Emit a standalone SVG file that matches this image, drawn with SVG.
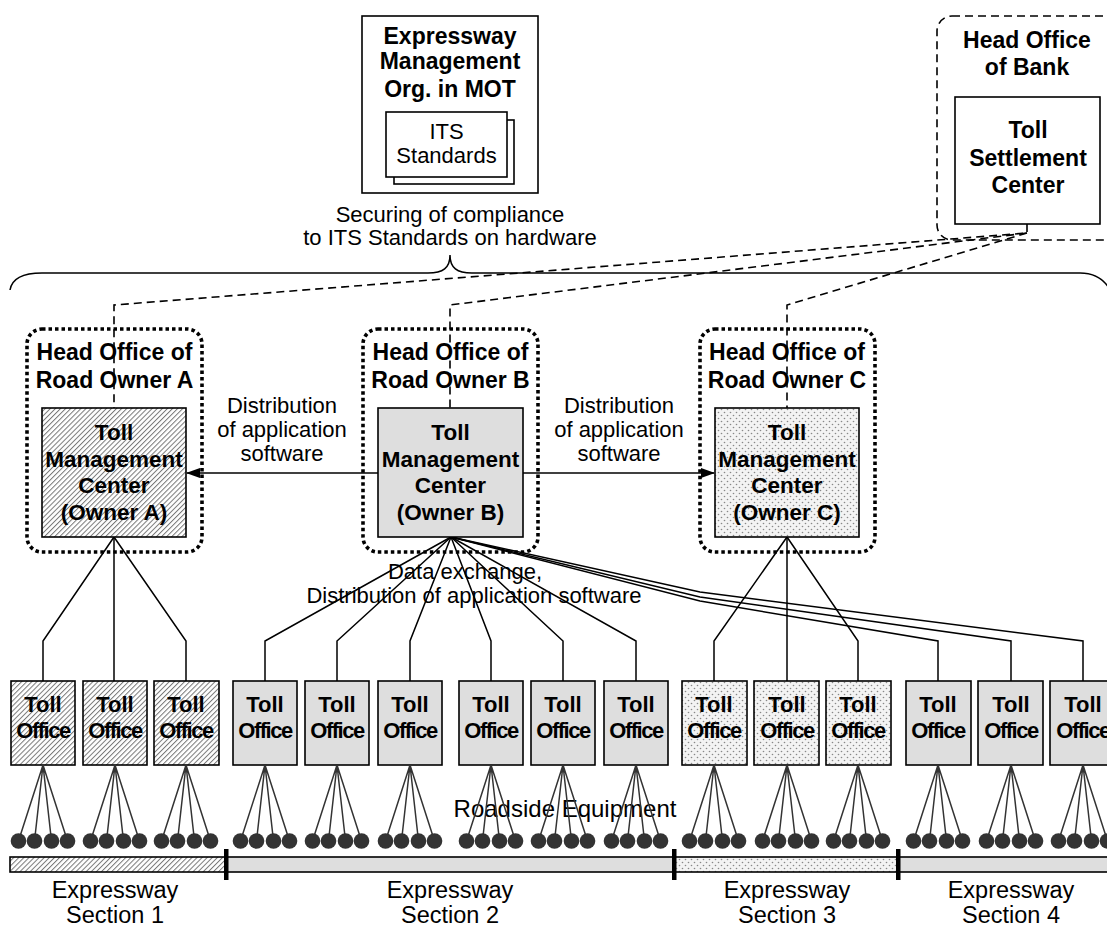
<svg xmlns="http://www.w3.org/2000/svg" width="1107" height="929" viewBox="0 0 1107 929">
  <defs>
    <style>
      text { font-family: "Liberation Sans", Arial, sans-serif; text-anchor: middle; fill: #000; }
      .bt { font-weight: bold; font-size: 23px; }
      .bm { font-weight: bold; font-size: 22.5px; }
      .bo { font-weight: bold; font-size: 22px; }
      .rt { font-size: 22px; }
      .rs { font-size: 24px; }
      .sec { font-size: 23.5px; }
      .box { stroke: #000; stroke-width: 1.6; }
      .dotted { fill: none; stroke: #000; stroke-width: 3.6; stroke-dasharray: 3.5 3; }
      .dashed { fill: none; stroke: #000; stroke-width: 1.6; stroke-dasharray: 8 5; }
      .ln { fill: none; stroke: #000; stroke-width: 1.5; }
      .fan { fill: none; stroke: #333; stroke-width: 1.5; }
      .eq { fill: #333; }
    </style>
    <pattern id="hatch" width="3.6" height="3.6" patternUnits="userSpaceOnUse" patternTransform="rotate(45)">
      <rect width="3.6" height="3.6" fill="#fff"/>
      <line x1="0.5" y1="0" x2="0.5" y2="3.6" stroke="#777" stroke-width="1"/>
    </pattern>
    <pattern id="dots" width="6" height="6" patternUnits="userSpaceOnUse">
      <rect width="6" height="6" fill="#f3f3f3"/>
      <circle cx="1.5" cy="1.5" r="0.8" fill="#888"/>
      <circle cx="4.5" cy="4.5" r="0.8" fill="#888"/>
    </pattern>
    <marker id="arrow" markerWidth="14" markerHeight="10" refX="13" refY="5" orient="auto" markerUnits="userSpaceOnUse">
      <path d="M0,0 L14,5 L0,10 Z" fill="#000"/>
    </marker>
  </defs>

  <!-- connectors -->
  <g id="connectors">
    <!-- settlement links (dashed) -->
    <polyline class="dashed" points="1027,224 1027,233 114,305 114,408"/>
    <polyline class="dashed" points="1027,233 450,305 450,408"/>
    <polyline class="dashed" points="1027,233 787,305 787,408"/>

    <!-- brace over the three owners -->
    <path class="ln" d="M10,290 C12,278 24,273 42,273 L428,273 C443,273 450,268 450,255 C450,268 457,273 472,273 L1080,273 C1094,273 1104,279 1110,290"/>

    <!-- software distribution arrows -->
    <line class="ln" x1="378" y1="473" x2="187" y2="473" marker-end="url(#arrow)"/>
    <line class="ln" x1="523" y1="473" x2="714" y2="473" marker-end="url(#arrow)"/>

    <!-- owner A to toll offices -->
    <polyline class="ln" points="114,537 43,641 43,681"/>
    <polyline class="ln" points="114,537 114,681"/>
    <polyline class="ln" points="114,537 186,641 186,681"/>

    <!-- owner B to toll offices -->
    <polyline class="ln" points="451,537 265,641 265,681"/>
    <polyline class="ln" points="451,537 337,641 337,681"/>
    <polyline class="ln" points="451,537 410,641 410,681"/>
    <polyline class="ln" points="451,537 491,641 491,681"/>
    <polyline class="ln" points="451,537 563,641 563,681"/>
    <polyline class="ln" points="451,537 636,641 636,681"/>
    <polyline class="ln" points="451,537 700,601 938,641 938,681"/>
    <polyline class="ln" points="451,537 700,597 1011,641 1011,681"/>
    <polyline class="ln" points="451,537 700,592 1083,641 1083,681"/>

    <!-- owner C to toll offices -->
    <polyline class="ln" points="787,537 714,641 714,681"/>
    <polyline class="ln" points="787,537 787,681"/>
    <polyline class="ln" points="787,537 858,641 858,681"/>
  </g>

  <!-- ministry node -->
  <g id="mot">
    <rect class="box" x="362" y="16" width="176" height="177" fill="#fff"/>
    <text class="bt" x="450" y="44">Expressway</text>
    <text class="bt" x="450" y="69">Management</text>
    <text class="bt" x="450" y="97">Org. in MOT</text>
    <g id="its-standards">
      <rect class="box" x="394" y="120" width="120" height="64" fill="#fff"/>
      <rect class="box" x="386" y="112" width="121" height="65" fill="#fff"/>
      <text class="rt" x="446.5" y="139">ITS</text>
      <text class="rt" x="446.5" y="163">Standards</text>
    </g>
  </g>
  <text class="rt" x="450" y="222">Securing of compliance</text>
  <text class="rt" x="450" y="245">to ITS Standards on hardware</text>

  <!-- bank node -->
  <g id="bank">
    <rect class="dashed" x="937" y="16" width="200" height="224" rx="15"/>
    <text class="bt" x="1027" y="48">Head Office</text>
    <text class="bt" x="1027" y="75">of Bank</text>
    <g id="settlement-center">
      <rect class="box" x="955" y="97" width="145" height="127" fill="#fff"/>
      <text class="bt" x="1028" y="138">Toll</text>
      <text class="bt" x="1028" y="166">Settlement</text>
      <text class="bt" x="1028" y="193">Center</text>
    </g>
  </g>

  <!-- road owner A -->
  <g id="owner-a">
    <rect class="dotted" x="27" y="329" width="175" height="223" rx="15"/>
    <text class="bt" x="114.5" y="360">Head Office of</text>
    <text class="bt" x="114.5" y="388">Road Owner A</text>
    <rect class="box" x="42" y="408" width="144" height="129" fill="url(#hatch)"/>
    <text class="bm" x="114" y="440">Toll</text>
    <text class="bm" x="114" y="467">Management</text>
    <text class="bm" x="114" y="493">Center</text>
    <text class="bm" x="114" y="520">(Owner A)</text>
  </g>

  <!-- road owner B -->
  <g id="owner-b">
    <rect class="dotted" x="363" y="329" width="175" height="223" rx="15"/>
    <text class="bt" x="450.5" y="360">Head Office of</text>
    <text class="bt" x="450.5" y="388">Road Owner B</text>
    <rect class="box" x="378" y="408" width="145" height="129" fill="#dedede"/>
    <text class="bm" x="450.5" y="440">Toll</text>
    <text class="bm" x="450.5" y="467">Management</text>
    <text class="bm" x="450.5" y="493">Center</text>
    <text class="bm" x="450.5" y="520">(Owner B)</text>
  </g>

  <!-- road owner C -->
  <g id="owner-c">
    <rect class="dotted" x="700" y="329" width="175" height="223" rx="15"/>
    <text class="bt" x="787" y="360">Head Office of</text>
    <text class="bt" x="787" y="388">Road Owner C</text>
    <rect class="box" x="715" y="408" width="144" height="129" fill="url(#dots)"/>
    <text class="bm" x="787" y="440">Toll</text>
    <text class="bm" x="787" y="467">Management</text>
    <text class="bm" x="787" y="493">Center</text>
    <text class="bm" x="787" y="520">(Owner C)</text>
  </g>

  <!-- connector labels -->
  <g id="labels">
    <text class="rt" x="282" y="413">Distribution</text>
    <text class="rt" x="282" y="437">of application</text>
    <text class="rt" x="282" y="461">software</text>
    <text class="rt" x="619" y="413">Distribution</text>
    <text class="rt" x="619" y="437">of application</text>
    <text class="rt" x="619" y="461">software</text>
    <text class="rt" x="465" y="579">Data exchange,</text>
    <text class="rt" x="474" y="603">Distribution of application software</text>
    <text class="rs" x="565" y="817">Roadside Equipment</text>
  </g>

  <!-- toll offices -->
  <g id="office-a1"><rect class="box" x="11" y="681" width="64" height="84" fill="url(#hatch)"/><text class="bo" x="43" y="712">Toll</text><text class="bo" x="43" y="738" letter-spacing="-1.5">Office</text></g>
  <g id="office-a2"><rect class="box" x="83" y="681" width="64" height="84" fill="url(#hatch)"/><text class="bo" x="115" y="712">Toll</text><text class="bo" x="115" y="738" letter-spacing="-1.5">Office</text></g>
  <g id="office-a3"><rect class="box" x="154" y="681" width="65" height="84" fill="url(#hatch)"/><text class="bo" x="186" y="712">Toll</text><text class="bo" x="186" y="738" letter-spacing="-1.5">Office</text></g>

  <g id="office-b1"><rect class="box" x="233" y="681" width="64" height="84" fill="#dedede"/><text class="bo" x="265" y="712">Toll</text><text class="bo" x="265" y="738" letter-spacing="-1.5">Office</text></g>
  <g id="office-b2"><rect class="box" x="305" y="681" width="64" height="84" fill="#dedede"/><text class="bo" x="337" y="712">Toll</text><text class="bo" x="337" y="738" letter-spacing="-1.5">Office</text></g>
  <g id="office-b3"><rect class="box" x="378" y="681" width="64" height="84" fill="#dedede"/><text class="bo" x="410" y="712">Toll</text><text class="bo" x="410" y="738" letter-spacing="-1.5">Office</text></g>
  <g id="office-b4"><rect class="box" x="459" y="681" width="64" height="84" fill="#dedede"/><text class="bo" x="491" y="712">Toll</text><text class="bo" x="491" y="738" letter-spacing="-1.5">Office</text></g>
  <g id="office-b5"><rect class="box" x="531" y="681" width="64" height="84" fill="#dedede"/><text class="bo" x="563" y="712">Toll</text><text class="bo" x="563" y="738" letter-spacing="-1.5">Office</text></g>
  <g id="office-b6"><rect class="box" x="604" y="681" width="64" height="84" fill="#dedede"/><text class="bo" x="636" y="712">Toll</text><text class="bo" x="636" y="738" letter-spacing="-1.5">Office</text></g>

  <g id="office-c1"><rect class="box" x="682" y="681" width="65" height="84" fill="url(#dots)"/><text class="bo" x="714" y="712">Toll</text><text class="bo" x="714" y="738" letter-spacing="-1.5">Office</text></g>
  <g id="office-c2"><rect class="box" x="754" y="681" width="65" height="84" fill="url(#dots)"/><text class="bo" x="787" y="712">Toll</text><text class="bo" x="787" y="738" letter-spacing="-1.5">Office</text></g>
  <g id="office-c3"><rect class="box" x="826" y="681" width="65" height="84" fill="url(#dots)"/><text class="bo" x="858" y="712">Toll</text><text class="bo" x="858" y="738" letter-spacing="-1.5">Office</text></g>

  <g id="office-d1"><rect class="box" x="906" y="681" width="65" height="84" fill="#dedede"/><text class="bo" x="938" y="712">Toll</text><text class="bo" x="938" y="738" letter-spacing="-1.5">Office</text></g>
  <g id="office-d2"><rect class="box" x="978" y="681" width="65" height="84" fill="#dedede"/><text class="bo" x="1011" y="712">Toll</text><text class="bo" x="1011" y="738" letter-spacing="-1.5">Office</text></g>
  <g id="office-d3"><rect class="box" x="1050" y="681" width="65" height="84" fill="#dedede"/><text class="bo" x="1083" y="712">Toll</text><text class="bo" x="1083" y="738" letter-spacing="-1.5">Office</text></g>

  <!-- roadside equipment: four units under each office -->
  <g id="roadside-equipment">
    <g id="rse-a1"><path class="fan" d="M43,765 L18.5,841 M43,765 L34.5,841 M43,765 L51.5,841 M43,765 L67.5,841"/><circle class="eq" cx="18.5" cy="841" r="7.8"/><circle class="eq" cx="34.5" cy="841" r="7.8"/><circle class="eq" cx="51.5" cy="841" r="7.8"/><circle class="eq" cx="67.5" cy="841" r="7.8"/></g>
    <g id="rse-a2"><path class="fan" d="M115,765 L90.5,841 M115,765 L106.5,841 M115,765 L123.5,841 M115,765 L139.5,841"/><circle class="eq" cx="90.5" cy="841" r="7.8"/><circle class="eq" cx="106.5" cy="841" r="7.8"/><circle class="eq" cx="123.5" cy="841" r="7.8"/><circle class="eq" cx="139.5" cy="841" r="7.8"/></g>
    <g id="rse-a3"><path class="fan" d="M186,765 L161.5,841 M186,765 L177.5,841 M186,765 L194.5,841 M186,765 L210.5,841"/><circle class="eq" cx="161.5" cy="841" r="7.8"/><circle class="eq" cx="177.5" cy="841" r="7.8"/><circle class="eq" cx="194.5" cy="841" r="7.8"/><circle class="eq" cx="210.5" cy="841" r="7.8"/></g>
    <g id="rse-b1"><path class="fan" d="M265,765 L240.5,841 M265,765 L256.5,841 M265,765 L273.5,841 M265,765 L289.5,841"/><circle class="eq" cx="240.5" cy="841" r="7.8"/><circle class="eq" cx="256.5" cy="841" r="7.8"/><circle class="eq" cx="273.5" cy="841" r="7.8"/><circle class="eq" cx="289.5" cy="841" r="7.8"/></g>
    <g id="rse-b2"><path class="fan" d="M337,765 L312.5,841 M337,765 L328.5,841 M337,765 L345.5,841 M337,765 L361.5,841"/><circle class="eq" cx="312.5" cy="841" r="7.8"/><circle class="eq" cx="328.5" cy="841" r="7.8"/><circle class="eq" cx="345.5" cy="841" r="7.8"/><circle class="eq" cx="361.5" cy="841" r="7.8"/></g>
    <g id="rse-b3"><path class="fan" d="M410,765 L385.5,841 M410,765 L401.5,841 M410,765 L418.5,841 M410,765 L434.5,841"/><circle class="eq" cx="385.5" cy="841" r="7.8"/><circle class="eq" cx="401.5" cy="841" r="7.8"/><circle class="eq" cx="418.5" cy="841" r="7.8"/><circle class="eq" cx="434.5" cy="841" r="7.8"/></g>
    <g id="rse-b4"><path class="fan" d="M491,765 L466.5,841 M491,765 L482.5,841 M491,765 L499.5,841 M491,765 L515.5,841"/><circle class="eq" cx="466.5" cy="841" r="7.8"/><circle class="eq" cx="482.5" cy="841" r="7.8"/><circle class="eq" cx="499.5" cy="841" r="7.8"/><circle class="eq" cx="515.5" cy="841" r="7.8"/></g>
    <g id="rse-b5"><path class="fan" d="M563,765 L538.5,841 M563,765 L554.5,841 M563,765 L571.5,841 M563,765 L587.5,841"/><circle class="eq" cx="538.5" cy="841" r="7.8"/><circle class="eq" cx="554.5" cy="841" r="7.8"/><circle class="eq" cx="571.5" cy="841" r="7.8"/><circle class="eq" cx="587.5" cy="841" r="7.8"/></g>
    <g id="rse-b6"><path class="fan" d="M636,765 L611.5,841 M636,765 L627.5,841 M636,765 L644.5,841 M636,765 L660.5,841"/><circle class="eq" cx="611.5" cy="841" r="7.8"/><circle class="eq" cx="627.5" cy="841" r="7.8"/><circle class="eq" cx="644.5" cy="841" r="7.8"/><circle class="eq" cx="660.5" cy="841" r="7.8"/></g>
    <g id="rse-c1"><path class="fan" d="M714,765 L689.5,841 M714,765 L705.5,841 M714,765 L722.5,841 M714,765 L738.5,841"/><circle class="eq" cx="689.5" cy="841" r="7.8"/><circle class="eq" cx="705.5" cy="841" r="7.8"/><circle class="eq" cx="722.5" cy="841" r="7.8"/><circle class="eq" cx="738.5" cy="841" r="7.8"/></g>
    <g id="rse-c2"><path class="fan" d="M787,765 L762.5,841 M787,765 L778.5,841 M787,765 L795.5,841 M787,765 L811.5,841"/><circle class="eq" cx="762.5" cy="841" r="7.8"/><circle class="eq" cx="778.5" cy="841" r="7.8"/><circle class="eq" cx="795.5" cy="841" r="7.8"/><circle class="eq" cx="811.5" cy="841" r="7.8"/></g>
    <g id="rse-c3"><path class="fan" d="M858,765 L833.5,841 M858,765 L849.5,841 M858,765 L866.5,841 M858,765 L882.5,841"/><circle class="eq" cx="833.5" cy="841" r="7.8"/><circle class="eq" cx="849.5" cy="841" r="7.8"/><circle class="eq" cx="866.5" cy="841" r="7.8"/><circle class="eq" cx="882.5" cy="841" r="7.8"/></g>
    <g id="rse-d1"><path class="fan" d="M938,765 L913.5,841 M938,765 L929.5,841 M938,765 L946.5,841 M938,765 L962.5,841"/><circle class="eq" cx="913.5" cy="841" r="7.8"/><circle class="eq" cx="929.5" cy="841" r="7.8"/><circle class="eq" cx="946.5" cy="841" r="7.8"/><circle class="eq" cx="962.5" cy="841" r="7.8"/></g>
    <g id="rse-d2"><path class="fan" d="M1011,765 L986.5,841 M1011,765 L1002.5,841 M1011,765 L1019.5,841 M1011,765 L1035.5,841"/><circle class="eq" cx="986.5" cy="841" r="7.8"/><circle class="eq" cx="1002.5" cy="841" r="7.8"/><circle class="eq" cx="1019.5" cy="841" r="7.8"/><circle class="eq" cx="1035.5" cy="841" r="7.8"/></g>
    <g id="rse-d3"><path class="fan" d="M1083,765 L1058.5,841 M1083,765 L1074.5,841 M1083,765 L1091.5,841 M1083,765 L1107.5,841"/><circle class="eq" cx="1058.5" cy="841" r="7.8"/><circle class="eq" cx="1074.5" cy="841" r="7.8"/><circle class="eq" cx="1091.5" cy="841" r="7.8"/><circle class="eq" cx="1107.5" cy="841" r="7.8"/></g>
  </g>

  <!-- expressway sections -->
  <g id="expressway">
    <rect class="box" x="10" y="857" width="216" height="15" fill="url(#hatch)"/>
    <rect class="box" x="226" y="857" width="448" height="15" fill="#dedede"/>
    <rect class="box" x="674" y="857" width="224" height="15" fill="url(#dots)"/>
    <rect class="box" x="898" y="857" width="220" height="15" fill="#dedede"/>
    <g fill="#000">
      <rect x="224" y="849" width="4.5" height="31"/>
      <rect x="672" y="849" width="4.5" height="31"/>
      <rect x="896" y="849" width="4.5" height="31"/>
    </g>
    <text class="sec" x="115" y="898">Expressway</text>
    <text class="sec" x="115" y="923">Section 1</text>
    <text class="sec" x="450" y="898">Expressway</text>
    <text class="sec" x="450" y="923">Section 2</text>
    <text class="sec" x="787" y="898">Expressway</text>
    <text class="sec" x="787" y="923">Section 3</text>
    <text class="sec" x="1011" y="898">Expressway</text>
    <text class="sec" x="1011" y="923">Section 4</text>
  </g>
</svg>
